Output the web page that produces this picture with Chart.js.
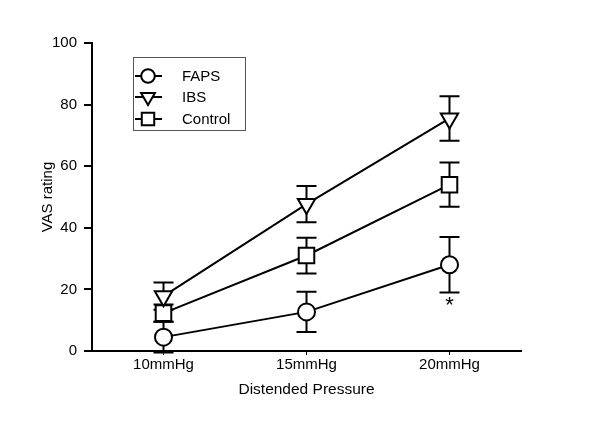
<!DOCTYPE html>
<html>
<head>
<meta charset="utf-8">
<script src="https://cdn.jsdelivr.net/npm/chart.js@4"></script>
<style>
html,body{margin:0;padding:0;background:#fff}
#wrap{width:600px;height:424px}
</style>
</head>
<body>
<div id="wrap"><canvas id="c" width="600" height="424"></canvas></div>
<script>
// values
const categories=['10mmHg','15mmHg','20mmHg'];
const seriesNames=['FAPS','IBS','Control'];
const faps=[4.5,12.7,28];
const fapsErr=[5,6.5,9];
const ibs=[17.8,47.7,75.5];
const ibsErr=[4.4,5.9,7.2];
const control=[12.3,31,54];
const controlErr=[2.8,5.8,7.2];
const yTicks=[0,20,40,60,80,100];
const starAt=[2]; // significance mark under FAPS

const FONT='"Liberation Sans", Arial, sans-serif';

function marker(ctx,style,x,y,r){
  ctx.beginPath();
  if(style==='circle'){ ctx.arc(x,y,r,0,Math.PI*2); }
  else if(style==='triangle'){ // pointing down
    const h=r*Math.sqrt(3)/2;
    ctx.moveTo(x-h,y-r/2); ctx.lineTo(x+h,y-r/2); ctx.lineTo(x,y+r); ctx.closePath();
  } else { const s=r*Math.SQRT1_2; ctx.rect(x-s,y-s,2*s,2*s); }
  ctx.fill(); ctx.stroke();
}

const errorBars={id:'errorBars',beforeDatasetsDraw(chart){
  const {ctx,scales:{x,y}}=chart;
  ctx.save(); ctx.strokeStyle='#000'; ctx.lineWidth=2;
  chart.data.datasets.forEach(ds=>{
    ds.data.forEach((v,i)=>{
      const px=x.getPixelForValue(i);
      const t=y.getPixelForValue(v+ds.err[i]), b=y.getPixelForValue(v-ds.err[i]);
      ctx.beginPath();
      ctx.moveTo(px,t); ctx.lineTo(px,b);
      ctx.moveTo(px-10,t); ctx.lineTo(px+10,t);
      ctx.moveTo(px-10,b); ctx.lineTo(px+10,b);
      ctx.stroke();
    });
  });
  ctx.restore();
}};

const extras={id:'extras',afterDraw(chart){
  const {ctx,scales:{x,y}}=chart;
  ctx.save();
  // asterisk
  ctx.fillStyle='#000'; ctx.font='22px '+FONT; ctx.textAlign='center'; ctx.textBaseline='middle';
  starAt.forEach(i=>{
    const py=y.getPixelForValue(faps[i]-fapsErr[i]);
    ctx.fillText('*',x.getPixelForValue(i),py+13);
  });
  // legend box
  ctx.strokeStyle='#555'; ctx.lineWidth=1;
  ctx.strokeRect(133.5,57.5,112,73);
  const rows=[76,97,119];
  chart.data.datasets.forEach((ds,k)=>{
    const ry=rows[k];
    ctx.strokeStyle='#000'; ctx.lineWidth=2;
    ctx.beginPath(); ctx.moveTo(135,ry); ctx.lineTo(162,ry); ctx.stroke();
    ctx.fillStyle='#fff';
    marker(ctx,ds.pointStyle,148,ry,ds.pointRadius*0.8);
    ctx.fillStyle='#000'; ctx.font='15px '+FONT; ctx.textAlign='left'; ctx.textBaseline='middle';
    ctx.fillText(ds.label,182,ry+1);
  });
  ctx.restore();
}};

function ds(label,data,err,style,r){
  return {label,data,err,borderColor:'#000',borderWidth:2,backgroundColor:'#fff',
    pointStyle:style,pointRadius:r,pointHoverRadius:r,pointBackgroundColor:'#fff',
    pointBorderColor:'#000',pointBorderWidth:2,pointRotation:style==='triangle'?180:0,clip:false,tension:0};
}

new Chart(document.getElementById('c'),{
  type:'line',
  data:{labels:categories,datasets:[
    ds(seriesNames[0],faps,fapsErr,'circle',8.5),
    ds(seriesNames[1],ibs,ibsErr,'triangle',10),
    ds(seriesNames[2],control,controlErr,'rect',11)
  ]},
  options:{
    responsive:false,animation:false,devicePixelRatio:1,
    layout:{padding:{left:0,right:79,top:43,bottom:0}},
    plugins:{legend:{display:false},tooltip:{enabled:false}},
    scales:{
      x:{offset:true,
        grid:{display:true,drawOnChartArea:false,drawTicks:true,tickLength:4,color:'#000',lineWidth:1},
        border:{display:true,color:'#000',width:2},
        ticks:{color:'#000',font:{family:FONT,size:15},padding:1,maxRotation:0},
        title:{display:true,text:'Distended Pressure',color:'#000',font:{family:FONT,size:15.5},padding:{bottom:25}},
        afterFit(s){s.height=73;}
      },
      y:{min:0,max:100,
        afterBuildTicks(s){s.ticks=yTicks.map(v=>({value:v}));},
        grid:{display:true,drawOnChartArea:false,drawTicks:true,tickLength:8,color:'#000',lineWidth:2},
        border:{display:true,color:'#000',width:2},
        ticks:{color:'#000',font:{family:FONT,size:15},padding:7},
        title:{display:true,text:'VAS rating',color:'#000',font:{family:FONT,size:15},padding:{top:39}},
        afterFit(s){s.width=92;}
      }
    }
  },
  plugins:[errorBars,extras]
});
</script>
</body>
</html>
